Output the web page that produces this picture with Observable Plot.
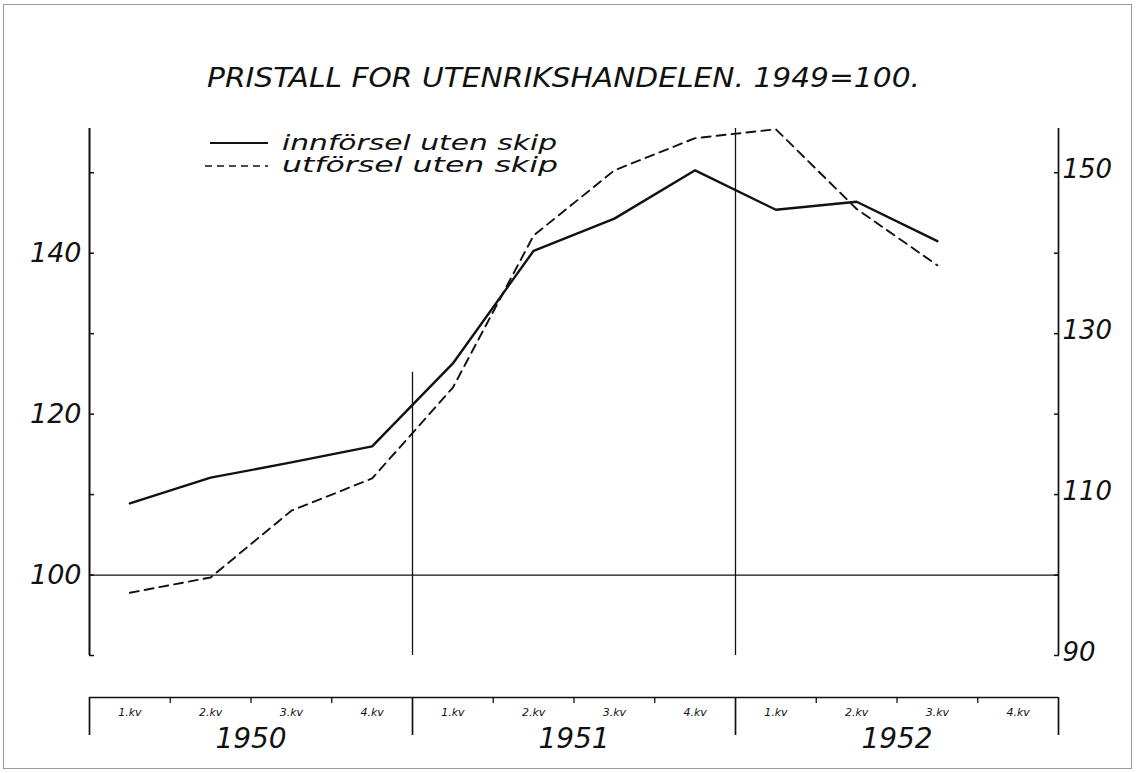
<!DOCTYPE html>
<html>
<head>
<meta charset="utf-8">
<script src="https://cdn.jsdelivr.net/npm/d3@7"></script>
<script src="https://cdn.jsdelivr.net/npm/@observablehq/plot@0.6"></script>
<style>
  html, body { margin: 0; padding: 0; background: #fff; }
  #wrap { position: relative; width: 1136px; height: 773px; overflow: hidden; background: #fff; color: #111; }
  #border { position: absolute; left: 3px; top: 4px; width: 1129px; height: 765px; border: 1px solid #9a9a9a; box-sizing: border-box; }
  #main, #bar, #head { position: absolute; left: 0; }
  #main { top: 0; }
  #bar { top: 690px; }
  #head { top: 0; }
  svg text { font-family: "DejaVu Sans", "Liberation Sans", sans-serif; font-style: italic; }
</style>
</head>
<body>
<div id="wrap">
  <div id="border"></div>
  <div id="main"></div>
  <div id="bar"></div>
  <svg id="head" width="1136" height="190" xmlns="http://www.w3.org/2000/svg">
    <text id="title" x="207" y="87" font-size="27" fill="#111" textLength="713" lengthAdjust="spacingAndGlyphs">PRISTALL FOR UTENRIKSHANDELEN. 1949=100.</text>
    <line x1="210" x2="268" y1="143" y2="143" stroke="#111" stroke-width="2"/>
    <line x1="205" x2="268" y1="166" y2="166" stroke="#111" stroke-width="1.6" stroke-dasharray="7,5"/>
    <text id="leg1" x="282" y="150" font-size="21" fill="#111" textLength="275" lengthAdjust="spacingAndGlyphs"></text>
    <text id="leg2" x="282" y="172" font-size="21" fill="#111" textLength="276" lengthAdjust="spacingAndGlyphs"></text>
  </svg>
</div>
<script>
// ---- data ----
const years = [1950, 1951, 1952];
const quarterLabels = ["1.kv", "2.kv", "3.kv", "4.kv"];
const seriesNames = ["innförsel uten skip", "utförsel uten skip"];
// quarterly index values, 1950 1.kv … 1952 3.kv
const innforsel = [108.9, 112.1, 114.0, 116.0, 126.3, 140.3, 144.3, 150.3, 145.4, 146.4, 141.5];
const utforsel  = [97.8, 99.7, 108.0, 112.0, 123.3, 142.2, 150.3, 154.3, 155.4, 145.5, 138.5];
const leftTickValues  = [90, 100, 110, 120, 130, 140, 150];
const leftLabelValues = [100, 120, 140];
const rightTickValues  = [90, 100, 110, 120, 130, 140, 150];
const rightLabelValues = [90, 110, 130, 150];
const baseLine = 100;
const yDomain = [90, 155.5];
const dividerTop = 125.2; // top of the short 1950/1951 divider

// ---- derived tables ----
const qPos = i => years[0] + (i + 0.5) / 4;
const impRows = innforsel.map((v, i) => ({x: qPos(i), v}));
const expRows = utforsel.map((v, i) => ({x: qPos(i), v}));
const xDomain = [years[0], years[years.length - 1] + 1];
const yearBounds = [...years, years[years.length - 1] + 1];
const quarterBounds = [];
const quarterRows = [];
years.forEach(y => {
  quarterLabels.forEach((q, k) => {
    quarterRows.push({x: y + (k + 0.5) / 4, label: q});
    if (k > 0) quarterBounds.push(y + k / 4);
  });
});
const yearRows = years.map(y => ({x: y + 0.5, label: String(y)}));

document.getElementById("leg1").textContent = seriesNames[0];
document.getElementById("leg2").textContent = seriesNames[1];

const ink = "#111";
const fontFamily = '"DejaVu Sans", "Liberation Sans", sans-serif';

const main = Plot.plot({
  width: 1136, height: 773,
  marginLeft: 89, marginRight: 78, marginTop: 128, marginBottom: 118,
  x: {domain: xDomain, axis: null},
  y: {domain: yDomain},
  style: {background: "transparent", color: ink, fontFamily},
  marks: [
    Plot.ruleX([xDomain[0]], {stroke: ink, strokeWidth: 2}),
    Plot.ruleX([xDomain[1]], {stroke: ink, strokeWidth: 1.7}),
    Plot.ruleX([years[2]], {stroke: ink, strokeWidth: 1.3}),
    Plot.ruleX([years[1]], {y1: yDomain[0], y2: dividerTop, stroke: ink, strokeWidth: 1.3}),
    Plot.ruleY([baseLine], {stroke: ink, strokeWidth: 1.3}),
    Plot.axisY(leftTickValues, {anchor: "left", tickSize: 5, dx: 5, tickFormat: () => "", label: null, strokeWidth: 1.5}),
    Plot.axisY(leftLabelValues, {anchor: "left", tickSize: 0, tickPadding: 8, label: null, fontSize: 27, fontStyle: "italic", fill: ink}),
    Plot.axisY(rightTickValues, {anchor: "right", tickSize: 5, dx: -5, tickFormat: () => "", label: null, strokeWidth: 1.5}),
    Plot.axisY(rightLabelValues, {anchor: "right", tickSize: 0, tickPadding: 4, dy: -3, label: null, fontSize: 26, fontStyle: "italic", fill: ink}),
    Plot.line(expRows, {x: "x", y: "v", stroke: ink, strokeWidth: 1.9, strokeDasharray: "9,6"}),
    Plot.line(impRows, {x: "x", y: "v", stroke: ink, strokeWidth: 2.4, strokeLinejoin: "round"})
  ]
});
document.getElementById("main").appendChild(main);

const bar = Plot.plot({
  width: 1136, height: 83,
  marginLeft: 89, marginRight: 78, marginTop: 7, marginBottom: 0,
  x: {domain: xDomain, axis: null},
  y: {domain: [0, 1], range: [7, 45], axis: null},
  style: {background: "transparent", color: ink, fontFamily},
  marks: [
    Plot.ruleY([0], {stroke: ink, strokeWidth: 1.7}),
    Plot.ruleX(yearBounds, {y1: 0, y2: 1, stroke: ink, strokeWidth: 1.7}),
    Plot.ruleX(quarterBounds, {y1: 0, y2: 0.16, stroke: ink, strokeWidth: 1.3}),
    Plot.text(quarterRows, {x: "x", y: 0, dy: 15, text: "label", fontSize: 11, fontStyle: "italic", fill: ink}),
    Plot.text(yearRows, {x: "x", y: 1, dy: 4, text: "label", fontSize: 28, fontStyle: "italic", fill: ink})
  ]
});
document.getElementById("bar").appendChild(bar);
</script>
</body>
</html>
